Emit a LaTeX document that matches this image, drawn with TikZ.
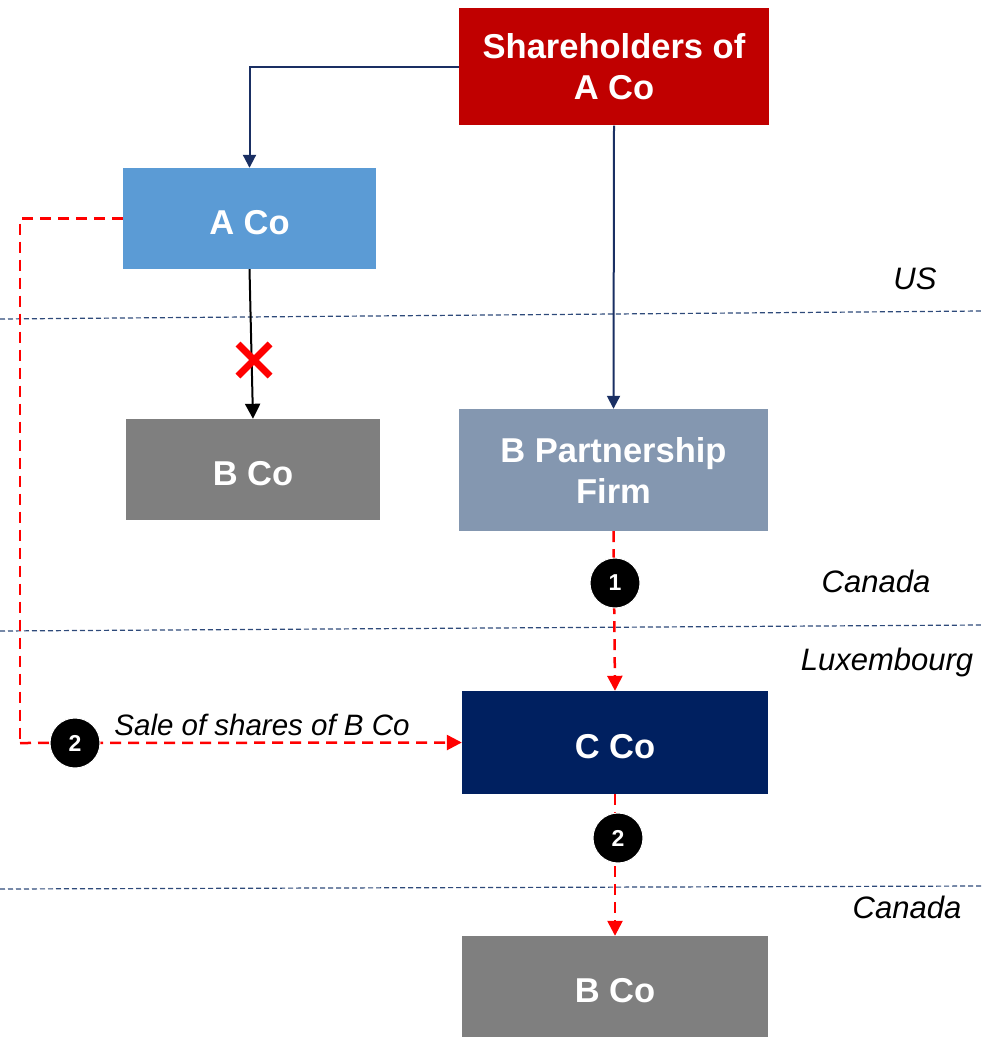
\documentclass[tikz,border=0pt]{standalone}
\usepackage{fontspec}
\setmainfont{Liberation Sans}
\usetikzlibrary{arrows.meta}
\definecolor{boxred}{HTML}{C00000}
\definecolor{boxblue}{HTML}{5B9BD5}
\definecolor{boxgrey}{HTML}{7F7F7F}
\definecolor{boxslate}{HTML}{8497B0}
\definecolor{boxnavy}{HTML}{002060}
\definecolor{linknavy}{HTML}{1A2F63}
\definecolor{seplineblue}{HTML}{2E4A7A}
\definecolor{flowred}{HTML}{FF0000}
\tikzset{
  entity/.style={rectangle, inner sep=0pt, text=white, align=center,
    font=\fontsize{34.5}{41}\selectfont\bfseries},
  oneline/.style={text height=32pt, text depth=0pt},
  navylink/.style={draw=linknavy, line width=2pt, -{Triangle[length=13pt,width=13pt]}},
  blacklink/.style={draw=black, line width=2pt, -{Triangle[length=15pt,width=15pt]}},
  flow/.style={draw=flowred, line width=2.5pt, dash pattern=on 11pt off 7pt,
    -{Triangle[length=15pt,width=15pt]}},
  flowplain/.style={draw=flowred, line width=2.5pt, dash pattern=on 11pt off 7pt},
  sepline/.style={draw=seplineblue, line width=1.2pt, dash pattern=on 5pt off 3pt},
  region/.style={font=\fontsize{31}{36}\selectfont\itshape, text=black, inner sep=0pt},
  salelabel/.style={font=\fontsize{29.5}{34}\selectfont\itshape, text=black, inner sep=0pt},
  stepmark/.style={circle, fill=black, draw=white, line width=1pt, minimum size=50pt,
    inner sep=0pt, text=white, font=\fontsize{23}{26}\selectfont\bfseries},
}
\begin{document}
\begin{tikzpicture}[x=1pt,y=-1pt]
\useasboundingbox (0,0) rectangle (982,1038);

% jurisdiction boundaries
\draw[sepline] (0,319) -- (982,311);
\draw[sepline] (0,631) -- (982,625);
\draw[sepline] (0,889) -- (982,886);

% region names
\node[region] (us) at (915,279) {US};
\node[region] (canadaA) at (876,581) {Canada};
\node[region] (lux) at (887,662) {Luxembourg};
\node[region] (canadaB) at (907,907) {Canada};

% entities
\node[entity, fill=boxred, minimum width=310pt, minimum height=117pt] (sh) at (614,67) {Shareholders of\\A Co};
\node[entity, oneline, fill=boxblue, minimum width=253pt, minimum height=101pt] (aco) at (249.5,218.5) {A Co};
\node[entity, oneline, fill=boxgrey, minimum width=254pt, minimum height=101pt] (bcoa) at (253,469.5) {B Co};
\node[entity, fill=boxslate, minimum width=309pt, minimum height=122pt] (bp) at (613.5,470) {B Partnership\\Firm};
\node[entity, oneline, fill=boxnavy, minimum width=306pt, minimum height=103pt] (cco) at (615,742.5) {C Co};
\node[entity, oneline, fill=boxgrey, minimum width=306pt, minimum height=101pt] (bcob) at (615,986.5) {B Co};

% ownership links
\draw[navylink] (sh.west) -| (aco.north);
\draw[navylink] (sh.south) -- (bp.north);
\draw[blacklink] (aco.south) -- (bcoa.north);

% severed holding
\node (cut) at (254,360) {};
\draw[flowred, line width=7pt] (cut.center) ++(-16,-16) -- ++(32,32);
\draw[flowred, line width=7pt] (cut.center) ++(16,-16) -- ++(-32,32);

% transaction steps
\coordinate (lcorner) at (20,743);
\draw[flowplain] (aco.west) -| (lcorner);
\draw[flow] (lcorner) -- (cco.west);
\draw[flow] (bp.south) -- (cco.north);
\draw[flow] (cco.south) -- (bcob.north);

\node[stepmark] (s2a) at (75,743) {2};
\node[stepmark] (s1) at (615,583) {1};
\node[stepmark] (s2b) at (618,838) {2};
\node[salelabel] (sale) at (262,725) {Sale of shares of B Co};
\end{tikzpicture}
\end{document}
